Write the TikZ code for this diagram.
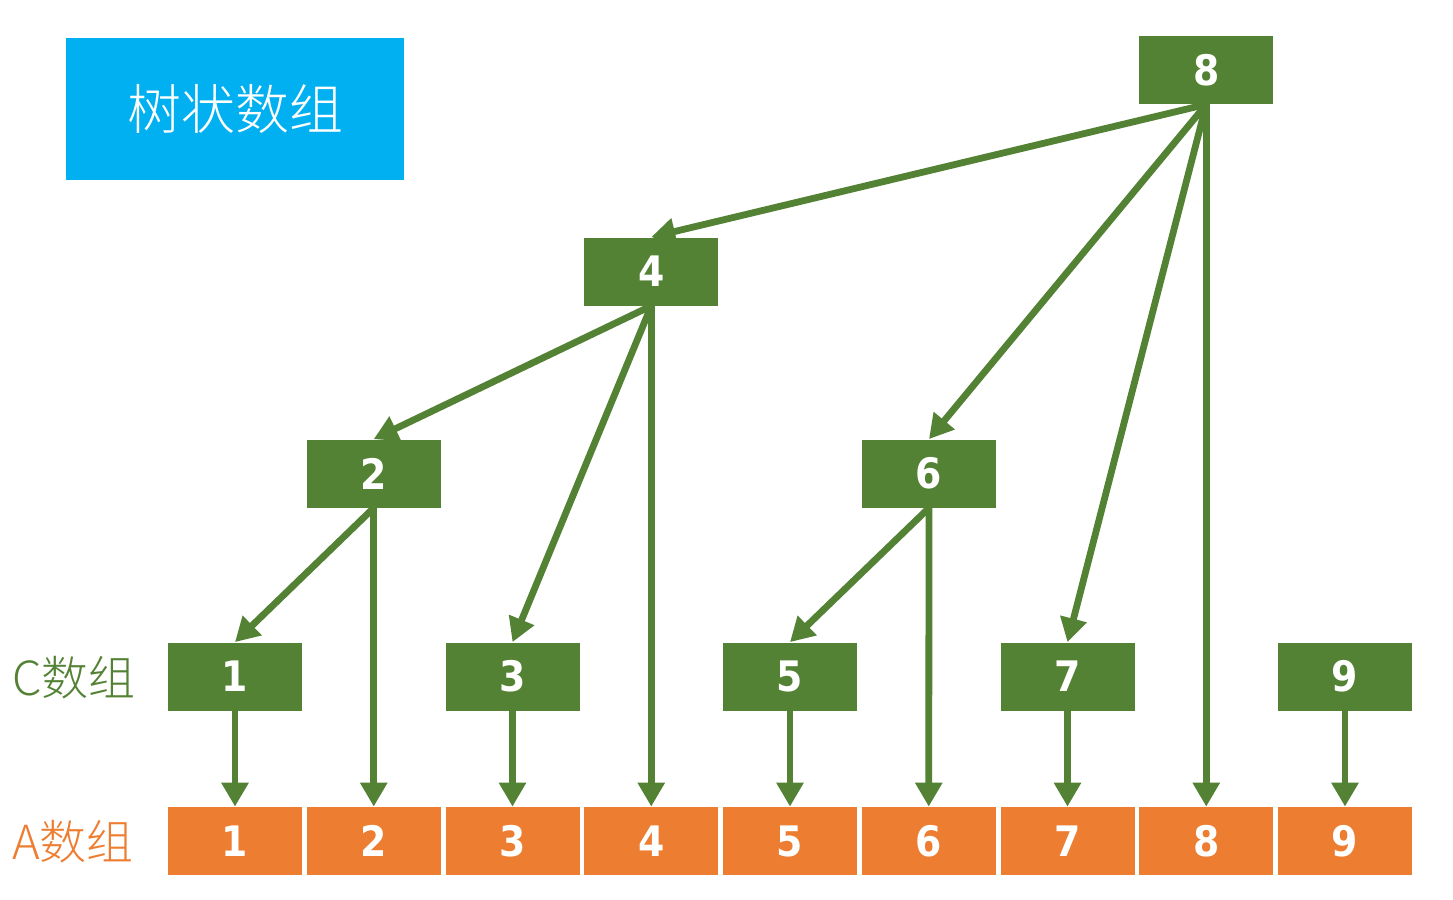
\documentclass[tikz,border=0pt]{standalone}
\usepackage{fontspec}
\newfontfamily\cjk{Noto Sans CJK SC}[UprightFont={* Light}]
\newfontfamily\numfont{DejaVu Sans Condensed}
\usetikzlibrary{arrows.meta}
\definecolor{treegreen}{HTML}{548235}
\definecolor{arrorange}{HTML}{ED7D31}
\definecolor{titlecyan}{HTML}{00B0F0}
\tikzset{
    cbox/.style={fill=treegreen, minimum width=67pt, minimum height=34pt,
        inner sep=0pt, text=white, font=\numfont\bfseries\fontsize{21}{21}\selectfont},
    abox/.style={cbox, fill=arrorange},
    link/.style={draw=treegreen, line width=3.4pt,
        -{Triangle[length=12pt,width=13pt]}}
}

\begin{document}
\begin{tikzpicture}[x=0.5pt,y=-0.5pt]
    \useasboundingbox (0,0) rectangle (1453,900);

    % Titre
    \node[fill=titlecyan, minimum width=169pt, minimum height=71pt, inner sep=0pt,
        text=white, font=\cjk\fontsize{27}{27}\selectfont] (title) at (235,109) {树状数组};

    % Tableau A
    \foreach \i in {1,...,9}
        \node[abox] (a\i) at ({235+(\i-1)*138.75},841) {\i};

    % Tableau C
    \foreach \i in {1,3,5,7,9}
        \node[cbox] (c\i) at ({235+(\i-1)*138.75},676.5) {\i};
    \node[cbox] (c2) at (373.75,473.5) {2};
    \node[cbox] (c6) at (929,473.5) {6};
    \node[cbox] (c4) at (651.25,271.5) {4};
    \node[cbox] (c8) at (1206.25,70) {8};

    \node[anchor=west, text=treegreen, font=\cjk\fontsize{23.5}{23.5}\selectfont] (clabel) at (5,678) {C数组};
    \node[anchor=west, text=arrorange, font=\cjk\fontsize{23.5}{23.5}\selectfont] (alabel) at (5,842) {A数组};

    % Flèches
    \foreach \i in {1,...,9}
        \draw[link] (c\i.south) -- (a\i.north);
    \draw[link] (c8.south) -- (c4.north);
    \draw[link] (c8.south) -- (c6.north);
    \draw[link] (c8.south) -- (c7.north);
    \draw[link] (c4.south) -- (c2.north);
    \draw[link] (c4.south) -- (c3.north);
    \draw[link] (c2.south) -- (c1.north);
    \draw[link] (c6.south) -- (c5.north);
\end{tikzpicture}
\end{document}
